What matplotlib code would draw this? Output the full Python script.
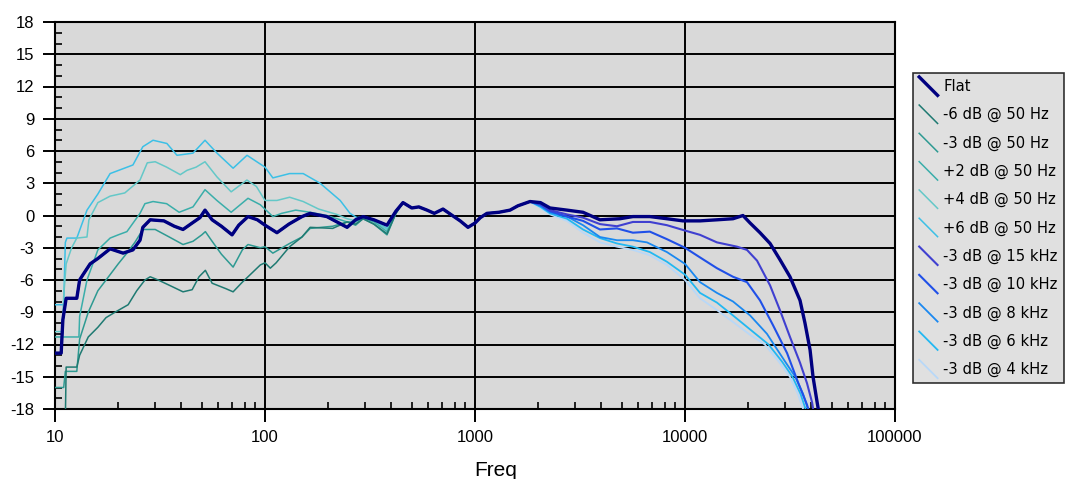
import matplotlib
matplotlib.use('Agg')
import matplotlib.pyplot as plt
from matplotlib.lines import Line2D
from matplotlib.legend_handler import HandlerBase
from matplotlib.ticker import FixedLocator, NullFormatter

plt.rcParams['axes.unicode_minus'] = False
plt.rcParams['font.family'] = ['Liberation Sans', 'DejaVu Sans']

# shared part of every trace (all curves sit on top of each other here)
mid_f = [454, 500, 540, 591, 640, 704, 780, 850, 926, 1000, 1060, 1140, 1300, 1468, 1600, 1828]
mid_db = [1.2, 0.7, 0.8, 0.5, 0.2, 0.6, 0.0, -0.5, -1.1, -0.7, -0.2, 0.2, 0.3, 0.5, 0.9, 1.3]

# Flat, low and high ends
flat_low_f = [10, 10.7, 10.9, 11.3, 12.7, 13.1, 13.6, 14.7, 16.0, 18.3, 21.1, 23.5, 25.4, 26.2, 28.4,
              33, 37, 40.7, 45, 49, 51.8, 56, 62, 69.7, 75, 83, 92, 100, 114, 130, 150, 164, 197,
              246, 270, 293, 330, 381, 420]
flat_low_db = [-12.8, -12.8, -9.7, -7.7, -7.7, -6.0, -5.5, -4.5, -4.0, -3.1, -3.5, -3.2, -2.3, -1.1, -0.4,
               -0.5, -1.0, -1.3, -0.7, -0.2, 0.5, -0.4, -1.0, -1.8, -0.9, -0.1, -0.4, -0.9, -1.6, -0.8, -0.1, 0.2, -0.1,
               -1.1, -0.4, -0.1, -0.4, -0.9, 0.4]
flat_high_f = [2050, 2276, 2742, 3268, 3936, 4900, 5650, 6800, 8200, 9780, 11790, 14190, 16930, 18880,
               20420, 22760, 25410, 28310, 31620, 35300, 37260, 39400, 40700, 42600, 44000]
flat_high_db = [1.2, 0.7, 0.5, 0.3, -0.4, -0.3, -0.1, -0.1, -0.3, -0.5, -0.5, -0.4, -0.3, 0.0,
                -0.7, -1.6, -2.6, -4.1, -5.7, -7.9, -10.0, -12.5, -15.0, -17.4, -19.0]

# low shelf variants
m6_50_f = [11.2, 11.3, 12.7, 13.1, 14.4, 16, 17.5, 19.3, 22.3, 24.5, 26.8, 28.4, 31, 36, 40.7, 45, 48.5,
           52, 56, 65, 70.5, 78, 83, 95, 100, 106, 113, 131, 150, 164, 210, 246, 270, 293, 330, 381, 420]
m6_50_db = [-19, -14.1, -14.1, -13.0, -11.3, -10.4, -9.5, -9.0, -8.3, -7.0, -6.0, -5.7, -6.0, -6.6, -7.1, -6.9, -5.7,
            -5.1, -6.3, -6.8, -7.1, -6.2, -5.7, -4.6, -4.4, -4.9, -4.4, -2.9, -2.0, -1.1, -1.2, -0.6, -0.8, -0.3, -0.8, -1.7, 0.2]
m3_50_f = [10, 11.0, 11.2, 12.7, 13.1, 14.4, 16, 18.3, 20, 22, 24, 26.2, 30, 35, 40.7, 45.4, 50, 52, 56, 62,
           70.5, 78, 83, 95, 100, 109, 131, 150, 164, 210, 246, 270, 293, 330, 381, 420]
m3_50_db = [-16, -16, -14.5, -14.5, -11.5, -9.0, -7.0, -5.5, -4.5, -3.5, -2.5, -1.3, -1.3, -2.0, -2.7, -2.4, -1.8, -1.5, -2.4, -3.6,
            -4.8, -3.2, -2.7, -3.0, -2.9, -3.5, -2.6, -2.0, -1.2, -1.0, -0.6, -0.9, -0.3, -0.8, -1.8, 0.2]
p2_50_f = [10, 13.0, 13.1, 14.2, 16, 18.3, 20, 22, 25.4, 26.8, 29.3, 34, 39, 45.4, 51.8, 59, 69, 83, 95,
           109, 120, 140, 164, 197, 246, 270, 293, 330, 381, 420]
p2_50_db = [-11.3, -11.3, -9.4, -6.0, -3.2, -2.1, -1.8, -1.5, 0.2, 1.1, 1.3, 1.1, 0.3, 0.8, 2.4, 1.4, 0.3, 1.6, 1.0,
            -0.1, 0.2, 0.5, 0.3, 0.0, -0.6, -0.6, -0.2, -0.6, -1.5, 0.2]
p4_50_f = [10, 10.8, 11.0, 11.3, 12.0, 12.7, 14.2, 14.5, 16, 18.3, 21.5, 25.4, 27.5, 30, 34, 39.5, 42.5, 47,
           51.8, 59, 69, 82, 91, 100, 114, 131, 152, 180, 220, 246, 270, 293, 330, 381, 420]
p4_50_db = [-10.8, -10.8, -7.5, -4.5, -3.0, -2.1, -2.0, -0.4, 1.2, 1.8, 2.1, 3.3, 4.9, 5.0, 4.5, 3.8, 4.2, 4.5,
            5.0, 3.6, 2.2, 3.3, 2.7, 1.4, 1.4, 1.7, 1.3, 0.6, 0.1, -0.3, -0.5, -0.1, -0.5, -1.3, 0.3]
p6_50_f = [10, 11.0, 11.2, 11.4, 12.7, 14.2, 16, 18.3, 23.5, 26.2, 29.3, 34.1, 38.1, 45.4, 51.8, 59.1, 70.5,
           82.1, 100, 109, 131, 152, 183, 228, 254, 274, 293, 330, 381, 420]
p6_50_db = [-8.3, -8.3, -2.5, -2.1, -2.1, 0.5, 2.0, 3.9, 4.7, 6.4, 7.0, 6.7, 5.6, 5.8, 7.0, 5.8, 4.4,
            5.6, 4.5, 3.5, 3.9, 3.9, 3.0, 1.4, 0.2, -0.2, -0.1, -0.5, -1.2, 0.3]

# high cut variants
hi_f15 = [2050, 2276, 2742, 3268, 3936, 4742, 5650, 6800, 8200, 10000, 11790, 14190, 17700, 19730, 22030,
          25410, 28310, 31620, 35300, 38100, 40300, 41500]
hi_db15 = [1.1, 0.5, 0.1, -0.2, -0.8, -1.0, -0.6, -0.6, -0.9, -1.4, -1.8, -2.5, -2.9, -3.2, -4.2,
           -6.5, -8.8, -11.3, -13.7, -15.6, -17.4, -19.0]
hi_f10 = [2050, 2276, 2742, 3268, 3936, 4742, 5650, 6800, 8200, 10000, 11790, 14190, 16930, 19730, 22760,
          26240, 30620, 34500, 38100, 40000]
hi_db10 = [1.0, 0.4, -0.1, -0.5, -1.3, -1.2, -1.6, -1.5, -2.2, -3.0, -3.9, -4.9, -5.7, -6.2, -7.9,
           -10.2, -12.8, -15.5, -17.6, -19.0]
hi_f8 = [2050, 2276, 2742, 3268, 3936, 4742, 5650, 6590, 8200, 10000, 11790, 14190, 16930, 20420, 24550,
         26500, 30000, 33500, 36500, 38500, 39500]
hi_db8 = [0.9, 0.3, -0.1, -0.9, -2.0, -2.3, -2.3, -2.5, -3.4, -4.5, -6.2, -7.2, -8.0, -9.3, -11.0,
          -12.0, -13.6, -15.0, -16.6, -18.0, -19.0]
hi_f6 = [2050, 2276, 2742, 3268, 3936, 4742, 5650, 6800, 8200, 10000, 11790, 14190, 16930, 20420, 25000,
         29000, 32500, 35500, 37500, 38500]
hi_db6 = [0.8, 0.2, -0.3, -1.3, -2.1, -2.6, -2.9, -3.4, -4.3, -5.5, -7.2, -8.1, -9.3, -10.6, -12.0,
          -13.6, -15.0, -16.6, -18.0, -19.0]
hi_f4 = [2050, 2276, 2742, 3268, 3936, 4742, 5650, 6800, 8200, 10000, 11790, 14190, 16930, 20420, 24000,
         28000, 31600, 34500, 36500, 37500]
hi_db4 = [0.7, 0.1, -0.5, -1.6, -2.5, -2.9, -3.2, -3.7, -4.6, -6.0, -7.7, -8.8, -9.9, -11.1, -12.0,
          -13.6, -15.0, -16.6, -18.0, -19.0]

labels = ['Flat', '-6 dB @ 50 Hz', '-3 dB @ 50 Hz', '+2 dB @ 50 Hz', '+4 dB @ 50 Hz', '+6 dB @ 50 Hz',
          '-3 dB @ 15 kHz', '-3 dB @ 10 kHz', '-3 dB @ 8 kHz', '-3 dB @ 6 kHz', '-3 dB @ 4 kHz']
colors = ['#000080', '#1f7a72', '#2e9a92', '#3aaeaa', '#64c8c8', '#3cc0e6',
          '#4040d0', '#2050e8', '#1a88f0', '#22b8f2', '#b8d8f8']
widths = [2.4, 1.1, 1.1, 1.1, 1.1, 1.1, 1.5, 1.5, 1.3, 1.3, 1.3]

series = [
    (flat_low_f + mid_f + flat_high_f, flat_low_db + mid_db + flat_high_db),
    (m6_50_f + mid_f + flat_high_f, m6_50_db + mid_db + flat_high_db),
    (m3_50_f + mid_f + flat_high_f, m3_50_db + mid_db + flat_high_db),
    (p2_50_f + mid_f + flat_high_f, p2_50_db + mid_db + flat_high_db),
    (p4_50_f + mid_f + flat_high_f, p4_50_db + mid_db + flat_high_db),
    (p6_50_f + mid_f + flat_high_f, p6_50_db + mid_db + flat_high_db),
    (flat_low_f + mid_f + hi_f15, flat_low_db + mid_db + hi_db15),
    (flat_low_f + mid_f + hi_f10, flat_low_db + mid_db + hi_db10),
    (flat_low_f + mid_f + hi_f8, flat_low_db + mid_db + hi_db8),
    (flat_low_f + mid_f + hi_f6, flat_low_db + mid_db + hi_db6),
    (flat_low_f + mid_f + hi_f4, flat_low_db + mid_db + hi_db4),
]


class DiagHandler(HandlerBase):
    # legend key drawn as a short falling diagonal
    def create_artists(self, legend, orig_handle, xdescent, ydescent, width, height, fontsize, trans):
        ln = Line2D([-xdescent, -xdescent + width], [-ydescent + height * 1.2, -ydescent - height * 0.2],
                    color=orig_handle.get_color(), lw=orig_handle.get_linewidth())
        ln.set_transform(trans)
        return [ln]


fig = plt.figure(figsize=(10.73, 4.79), dpi=100)
ax = fig.add_axes([55 / 1073, 1 - 409 / 479, 840 / 1073, 387 / 479])
ax.set_facecolor('#d9d9d9')

handles = []
for i in range(len(series)):
    f, db = series[i]
    h, = ax.plot(f, db, color=colors[i], lw=widths[i], label=labels[i], zorder=20 - i if i > 0 else 30)
    handles.append(h)

ax.set_xscale('log')
ax.set_xlim(10, 100000)
ax.set_ylim(-18, 18)
ax.set_xticks([10, 100, 1000, 10000, 100000])
ax.set_xticklabels(['10', '100', '1000', '10000', '100000'])
ax.xaxis.set_minor_locator(FixedLocator([m * 10 ** k for k in range(1, 5) for m in range(2, 10)]))
ax.xaxis.set_minor_formatter(NullFormatter())
ax.set_yticks(range(-18, 19, 3))
ax.yaxis.set_minor_locator(FixedLocator(range(-18, 19, 1)))

ax.tick_params(which='major', direction='out', length=9, width=1.4, labelsize=12, pad=6)
ax.tick_params(which='minor', direction='in', length=5, width=1.2)
ax.grid(which='major', color='black', lw=1.4)
ax.set_axisbelow(True)
for s in ax.spines.values():
    s.set_linewidth(1.5)
    s.set_color('black')

ax.set_xlabel('Freq', fontsize=15)
ax.xaxis.set_label_coords(0.525, -0.135)

leg = fig.legend(handles, labels, loc='upper left', bbox_to_anchor=(913 / 1073, 1 - 73 / 479),
                 handler_map={Line2D: DiagHandler()}, prop={'family': 'DejaVu Sans', 'size': 10.6},
                 handlelength=1.25, handleheight=1.0, handletextpad=0.4, labelspacing=0.89,
                 borderpad=0.42, borderaxespad=0, fancybox=False, frameon=True)
leg.get_frame().set_facecolor('#d9d9d9')
leg.get_frame().set_edgecolor('black')
leg.get_frame().set_linewidth(1.2)

plt.savefig('out.png', dpi=100)
